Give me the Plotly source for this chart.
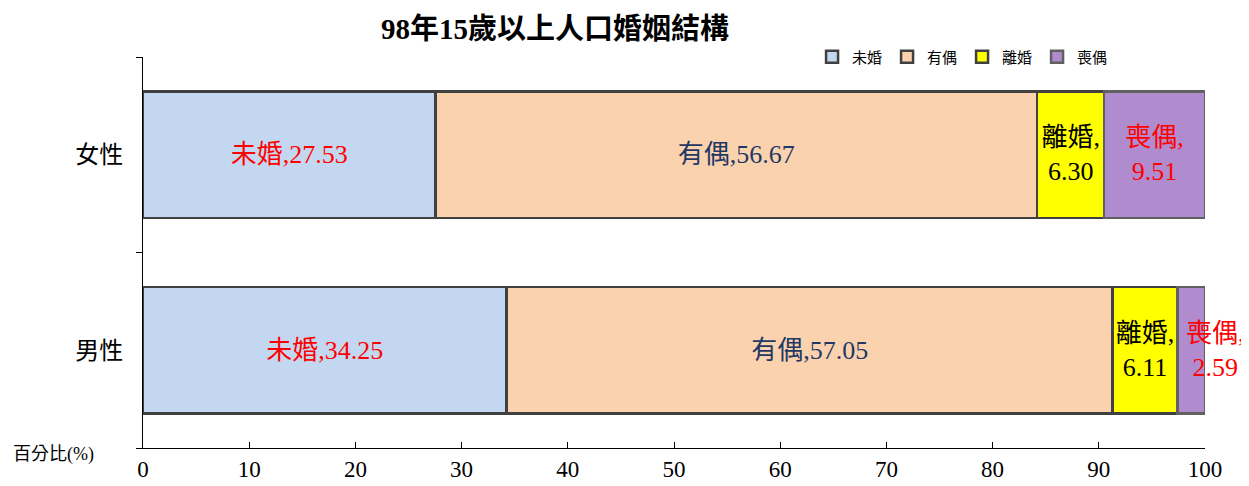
import plotly.graph_objects as go

categories = ["男性", "女性"]
series_names = ["未婚", "有偶", "離婚", "喪偶"]
never_married = [34.25, 27.53]
married = [57.05, 56.67]
divorced = [6.11, 6.30]
widowed = [2.59, 9.51]
x_ticks = [0, 10, 20, 30, 40, 50, 60, 70, 80, 90, 100]

values = [never_married, married, divorced, widowed]
colors = ["#c3d7f0", "#fbd2ae", "#ffff00", "#b08ccf"]
text_colors = ["#ff0000", "#1f3864", "#000000", "#ff0000"]
line_colors = ["#404040", "#404040", "#404040", "#606060"]
templates = [["%{text},%{x:.2f}"] * 2, ["%{text},%{x:.2f}"] * 2,
             ["%{text},<br>%{x:.2f}"] * 2, ["", "%{text},<br>%{x:.2f}"]]

LABEL_FONT = "Liberation Serif, Noto Sans CJK TC, serif"
LABEL_SIZE = 26

fig = go.Figure()
for name, vals, c, tc, lc, tt in zip(series_names, values, colors, text_colors, line_colors, templates):
    fig.add_trace(go.Bar(
        y=categories, x=vals, name=name, orientation="h",
        text=[name] * len(vals),
        marker=dict(color=c, line=dict(color=lc, width=2.5)),
        texttemplate=tt, textposition="inside", insidetextanchor="middle",
        textangle=0, constraintext="none",
        textfont=dict(family=LABEL_FONT, size=LABEL_SIZE, color=tc),
    ))

# label for the narrow male widowed segment sits just past the bar end
male_total = never_married[0] + married[0] + divorced[0] + widowed[0]
fig.add_annotation(x=male_total, y=categories[0], xref="x", yref="y",
                   text=f"{series_names[3]},<br>{widowed[0]:.2f}", showarrow=False,
                   xanchor="center", xshift=10,
                   font=dict(family=LABEL_FONT, size=LABEL_SIZE, color="#ff0000"))

fig.update_layout(
    barmode="stack",
    bargap=0.355,
    width=1249, height=486,
    margin=dict(l=135, r=52, t=49, b=44),
    paper_bgcolor="white", plot_bgcolor="white",
    uniformtext=dict(minsize=LABEL_SIZE, mode="show"),
    title=dict(text="<b>98年15歲以上人口婚姻結構</b>", x=547 / 1249, xanchor="center",
               y=1 - 21 / 486, yanchor="middle",
               font=dict(family=LABEL_FONT, size=29, color="#000000")),
    legend=dict(orientation="h", x=0.630, xanchor="left", y=1.0, yanchor="middle",
                font=dict(family=LABEL_FONT, size=15, color="#000000"),
                bgcolor="rgba(0,0,0,0)", itemwidth=30, entrywidth=30,
                entrywidthmode="pixels", traceorder="normal"),
    showlegend=True,
)
fig.update_xaxes(range=[0, 100], tickvals=x_ticks, ticks="inside", ticklen=6,
                 tickcolor="#000000", showline=True, linecolor="#000000", linewidth=1,
                 showgrid=False, zeroline=False,
                 tickfont=dict(family="Liberation Serif, serif", size=23, color="#000000"))
fig.update_yaxes(categoryorder="array", categoryarray=categories, tickson="boundaries",
                 ticks="outside", ticklen=6, tickcolor="#000000", showline=True,
                 linecolor="#000000", linewidth=1, showgrid=False, ticklabelstandoff=14,
                 tickfont=dict(family="Noto Sans CJK TC, sans-serif", size=24, color="#000000"))
fig.add_annotation(text="百分比(%)", xref="paper", yref="paper", x=-132 / 1062, y=6 / 393,
                   xanchor="left", yanchor="top", showarrow=False,
                   font=dict(family=LABEL_FONT, size=18, color="#000000"))

fig.write_html("out.html")
